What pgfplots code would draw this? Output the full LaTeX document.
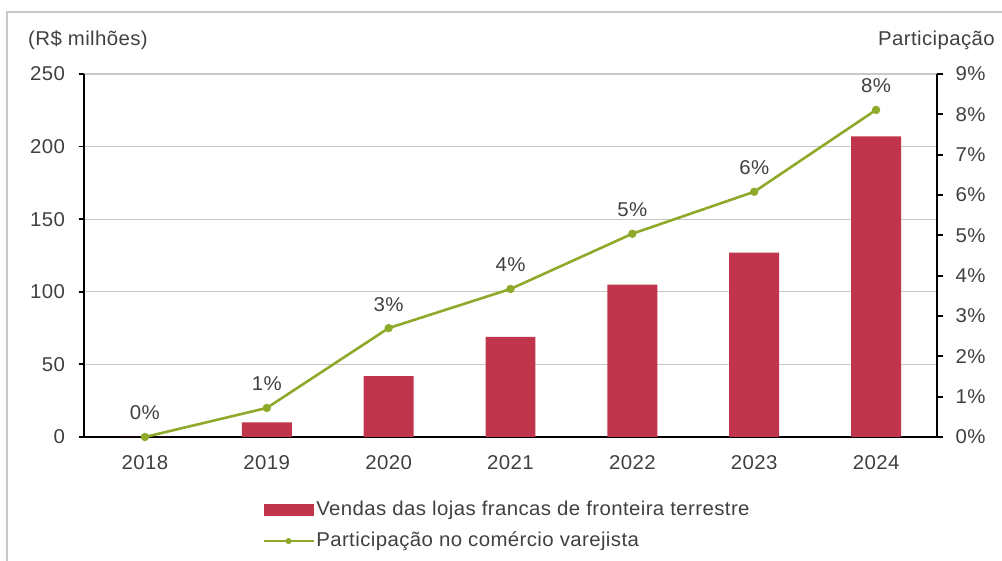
\documentclass[border=0pt]{standalone}
\usepackage{fontspec}
\setmainfont{Liberation Sans}[FakeStretch=1.02, LetterSpace=2]
\usepackage{pgfplots}
\pgfplotsset{compat=1.18}
\definecolor{barred}{HTML}{C0354B}
\definecolor{lgreen}{HTML}{8FA92A}
\definecolor{txt}{HTML}{404040}
\definecolor{gridc}{HTML}{C8C8C8}
\newcommand{\ff}{\fontsize{20bp}{23bp}\selectfont}
\begin{document}
\begin{tikzpicture}[x=1bp,y=1bp]
\useasboundingbox (0,0) rectangle (1002,561);
\draw[gridc, line width=1.2bp] (7,0) -- (7,549) -- (1002,549);
\node[anchor=base west, text=txt, inner sep=0, font=\ff] at (28,515) {(R\$ milhões)};
\node[anchor=base east, text=txt, inner sep=0, font=\ff] at (995,515) {Participação};
\begin{axis}[
  at={(84bp,124bp)}, anchor=south west, scale only axis,
  width=853bp, height=363bp,
  xmin=-0.5, xmax=6.5, ymin=0, ymax=250,
  axis x line*=bottom, axis y line*=left,
  axis line style={black, line width=1.8bp, -},
  xtick={0,...,6},
  xticklabels={2018,2019,2020,2021,2022,2023,2024},
  x tick style={draw=none},
  extra x ticks={0.5,1.5,...,5.5},
  extra x tick labels={},
  extra x tick style={tick align=outside, major tick length=5.5bp, tick style={draw=black, line width=1.8bp}, grid=none},
  ytick={0,50,...,250},
  tick align=outside,
  major tick length=5.5bp,
  y tick style={black, line width=1.8bp},
  ymajorgrids,
  grid style={gridc, line width=1.3bp},
  tick label style={font=\ff, text=txt, /pgf/number format/assume math mode=true},
  yticklabel style={xshift=-10bp},
  xticklabel style={yshift=-9.5bp},
  clip=false,
  legend style={at={(0.2087,-0.244)}, anchor=west, draw=none, fill=none, inner sep=0,
    font=\ff, text=txt, row sep=10bp,
    nodes={inner sep=1.5bp, text height=14bp, text depth=4bp}},
  legend cell align=left,
]
\addplot[ybar, bar width=0.41, bar shift=0, fill=barred, draw=none,
  legend image code/.code={\fill[barred] (-2bp,-6bp) rectangle (48bp,6bp);}]
  coordinates {(0,0) (1,10) (2,42) (3,69) (4,105) (5,127) (6,207)};
\addlegendentry{Vendas das lojas francas de fronteira terrestre}
\addlegendimage{legend image code/.code={\draw[lgreen, line width=2.6bp] (-2bp,0bp) -- (48bp,0bp); \fill[lgreen] (23bp,0bp) circle (2.8bp);}}
\addlegendentry{Participação no comércio varejista}
\end{axis}
\begin{axis}[
  at={(84bp,124bp)}, anchor=south west, scale only axis,
  width=853bp, height=363bp,
  xmin=-0.5, xmax=6.5, ymin=0, ymax=9,
  axis x line=none, axis y line*=right,
  axis line style={black, line width=1.8bp, -},
  ytick={0,...,9},
  yticklabel={\pgfmathprintnumber{\tick}\%},
  tick align=outside,
  major tick length=6bp,
  y tick style={black, line width=1.8bp},
  tick label style={font=\ff, text=txt, /pgf/number format/assume math mode=true},
  yticklabel style={xshift=9bp},
  clip=false,
]
\addplot[lgreen, line width=2.6bp, mark=*, mark size=2.8bp,
  nodes near coords, point meta=explicit symbolic,
  every node near coord/.append style={anchor=base, yshift=17bp, font=\ff, text=txt}]
  coordinates {(0,0)[0\%] (1,0.72)[1\%] (2,2.70)[3\%] (3,3.67)[4\%] (4,5.04)[5\%] (5,6.08)[6\%] (6,8.11)[8\%]};
\end{axis}
\end{tikzpicture}
\end{document}
